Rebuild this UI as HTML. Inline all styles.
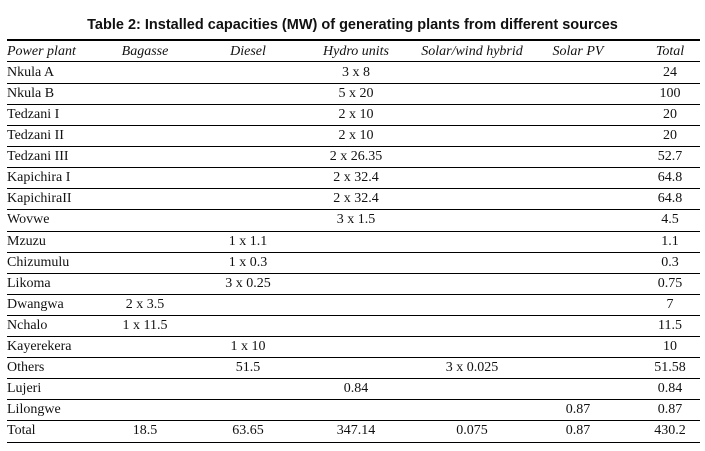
<!DOCTYPE html>
<html><head><meta charset="utf-8">
<style>
body{margin:0;background:#fff;width:705px;height:451px;position:relative;overflow:hidden;font-family:"Liberation Serif",serif;color:#111}
#title{position:absolute;left:0;width:705px;top:17px;text-align:center;font:bold 14.5px "Liberation Sans",sans-serif}
.line{position:absolute;left:7px;width:693px;background:#000}
.c{position:absolute;font-size:14px;line-height:21px;white-space:nowrap}
.h{font-style:italic}
</style></head><body>
<div id="title">Table 2: Installed capacities (MW) of generating plants from different sources</div>
<div id="tbl"></div>
<script>
const headers=["Power plant","Bagasse","Diesel","Hydro units","Solar/wind hybrid","Solar PV","Total"];
const rows=[
["Nkula A","","","3 x 8","","","24"],
["Nkula B","","","5 x 20","","","100"],
["Tedzani I","","","2 x 10","","","20"],
["Tedzani II","","","2 x 10","","","20"],
["Tedzani III","","","2 x 26.35","","","52.7"],
["Kapichira I","","","2 x 32.4","","","64.8"],
["KapichiraII","","","2 x 32.4","","","64.8"],
["Wovwe","","","3 x 1.5","","","4.5"],
["Mzuzu","","1 x 1.1","","","","1.1"],
["Chizumulu","","1 x 0.3","","","","0.3"],
["Likoma","","3 x 0.25","","","","0.75"],
["Dwangwa","2 x 3.5","","","","","7"],
["Nchalo","1 x 11.5","","","","","11.5"],
["Kayerekera","","1 x 10","","","","10"],
["Others","","51.5","","3 x 0.025","","51.58"],
["Lujeri","","","0.84","","","0.84"],
["Lilongwe","","","","","0.87","0.87"],
["Total","18.5","63.65","347.14","0.075","0.87","430.2"]];
const centers=[null,145,248,356,472,578,670];
const tbl=document.getElementById('tbl');
function cell(txt,ci,top,cls){
  const d=document.createElement('div');
  
  
  d.className='c '+cls;
  d.textContent=txt;
  d.style.top=top+'px';
  if(ci===0){d.style.left='7px';}
  else{d.style.left=centers[ci]+'px';d.style.transform='translateX(-50%)';}
  tbl.appendChild(d);
}
function line(y,h){
  const l=document.createElement('div');
  
  
  l.className='line';l.style.top=y+'px';l.style.height=h+'px';
  tbl.appendChild(l);
}
line(39,2);
headers.forEach((t,i)=>cell(t,i,41,'h'));
const y0=61.7,rh=21.1;
line(61,1.3);
rows.forEach((r,ri)=>{
  const top=y0+ri*rh;
  r.forEach((t,ci)=>{if(t)cell(t,ci,top,'');});
  line(Math.round(top+rh)-0.5,1.3);
});
</script>
</body></html>
